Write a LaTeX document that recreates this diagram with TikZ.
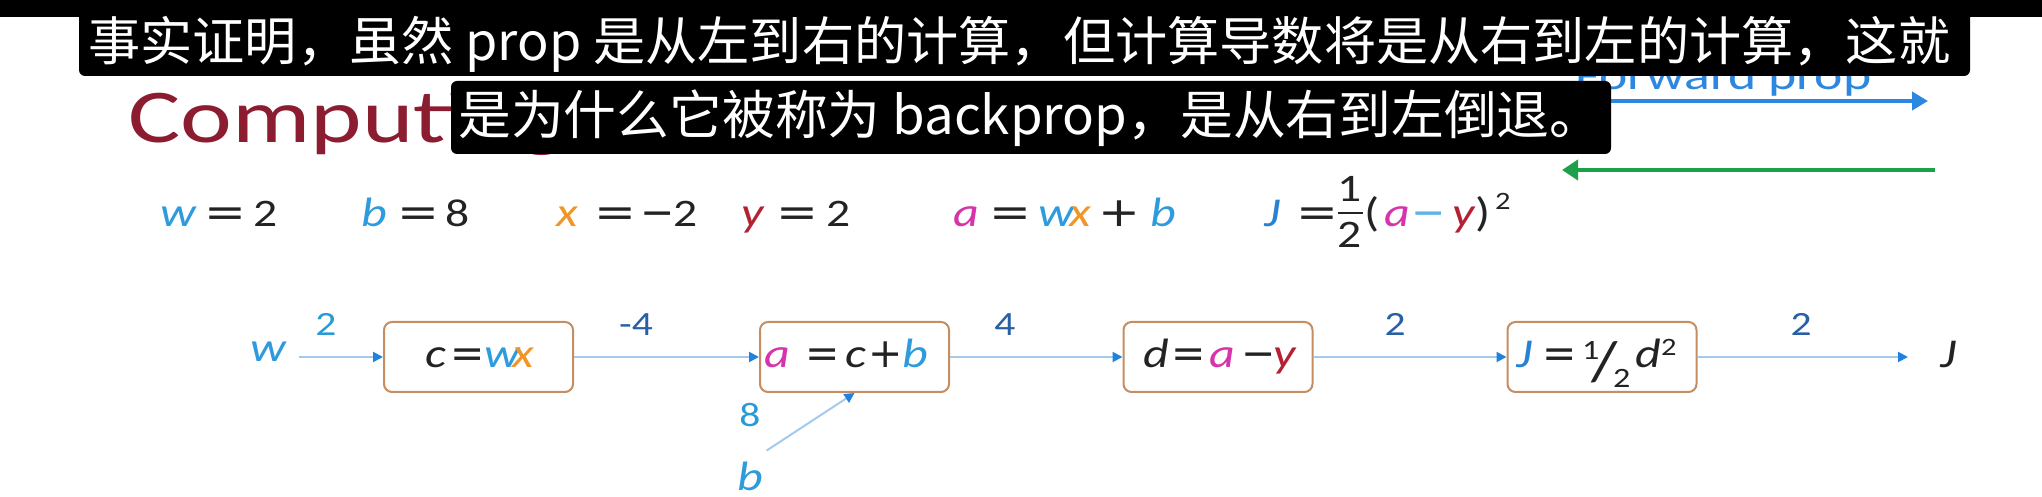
\documentclass[tikz,border=0pt]{standalone}
\usepackage{fontspec}
\usepackage{graphicx}
\setmainfont{Carlito}
\newfontfamily\cjkfont{Noto Sans CJK SC}
\newfontfamily\symfont{DejaVu Sans}
\usetikzlibrary{arrows.meta}
\definecolor{maroon}{RGB}{140,28,48}
\definecolor{wblue}{RGB}{45,155,222}
\definecolor{xorange}{RGB}{240,150,40}
\definecolor{yred}{RGB}{180,32,52}
\definecolor{amag}{RGB}{214,52,170}
\definecolor{jblue}{RGB}{40,130,212}
\definecolor{mblue}{RGB}{95,180,230}
\definecolor{ink}{RGB}{35,35,35}
\definecolor{boxbrown}{RGB}{196,142,98}
\definecolor{linkblue}{RGB}{165,203,236}
\definecolor{tipblue}{RGB}{30,130,222}
\definecolor{labdark}{RGB}{40,95,165}
\definecolor{lablight}{RGB}{40,155,215}
\definecolor{fpblue}{RGB}{45,135,222}
\definecolor{bpgreen}{RGB}{30,160,75}
\newcommand\sx[1]{\scalebox{1.22}[1]{#1}}
\newcommand\eqfont{\fontsize{20.5pt}{24pt}\selectfont}
\newcommand\dgfont{\fontsize{19.5pt}{22pt}\selectfont}
\newcommand\supfont{\fontsize{12.5pt}{14pt}\selectfont}
\newcommand\halffont{\fontsize{14pt}{16pt}\selectfont}
\newcommand\labfont{\fontsize{17pt}{20pt}\selectfont}
\newcommand\V[1]{\textit{#1}}
\newcommand\tk[5]{\node[tok,#4] (#1) at (#2,#3) {\sx{#5}};}
\newcommand\tkn[5]{\node[tok,#4] (#1) at (#2,#3) {#5};}
\begin{document}
\begin{tikzpicture}[x=0.5pt,y=-0.5pt,
  tok/.style={inner sep=0pt,outer sep=0pt,anchor=base west,font=\eqfont,text=ink},
  dig/.style={font=\dgfont},
  lab/.style={inner sep=0pt,anchor=base,font=\labfont},
  opbox/.style={draw=boxbrown,line width=1pt,rounded corners=4pt,minimum width=94.5pt,minimum height=35pt,inner sep=0pt},
  link/.style={draw=linkblue,line width=1pt,-{Triangle[length=5pt,width=5pt,color=tipblue]}},
  bigarrow/.style={line width=2pt,-{Triangle[length=8pt,width=9pt]}},
  subtext/.style={anchor=west,inner sep=0pt,text=white}]
\fill[white] (0,0) rectangle (2042,497);
\useasboundingbox (0,0) rectangle (2042,497);

% title and direction arrows
\node[inner sep=0pt,anchor=base west,font=\fontsize{38pt}{44pt}\selectfont,text=maroon] (title) at (128,143) {\scalebox{1.29}[1]{Computing}};
\node[inner sep=0pt,anchor=base west,font=\fontsize{21pt}{24pt}\selectfont,text=fpblue] (fp) at (1575,90) {\scalebox{1.28}[1]{Forward prop}};
\coordinate (fpa) at (1590,101);
\coordinate (fpb) at (1928,101);
\draw[bigarrow,fpblue] (fpa) -- (fpb);
\coordinate (bpa) at (1935,170);
\coordinate (bpb) at (1562,170);
\draw[bigarrow,bpgreen,-{Triangle[length=8pt,width=10pt]}] (bpa) -- (bpb);

% equations row
\tk{e1w}{160}{227}{text=wblue}{\V{w}}
\tk{e1eq}{204}{227}{}{\symfont =}
\tk{e1n}{253}{227}{dig}{2}
\tk{e2b}{361}{227}{text=wblue}{\V{b}}
\tk{e2eq}{397}{227}{}{\symfont =}
\tk{e2n}{445}{227}{dig}{8}
\tk{e3x}{556}{227}{text=xorange}{\V{x}}
\tk{e3eq}{594}{227}{}{\symfont =}
\tkn{e3m}{640}{227}{}{\symfont −}
\tk{e3n}{673}{227}{dig}{2}
\tk{e4y}{741}{227}{text=yred}{\V{y}}
\tk{e4eq}{776}{227}{}{\symfont =}
\tk{e4n}{826}{227}{dig}{2}
\tk{e5a}{953}{227}{text=amag}{\V{a}}
\tk{e5eq}{989}{227}{}{\symfont =}
\tk{e5w}{1038}{227}{text=wblue}{\V{w}}
\tk{e5x}{1069}{227}{text=xorange}{\V{x}}
\tk{e5p}{1098}{227}{}{\symfont +}
\tk{e5b}{1150}{227}{text=wblue}{\V{b}}
\tk{e6J}{1264}{227}{text=jblue}{\V{J}}
\tk{e6eq}{1296}{227}{}{\symfont =}
\node[tok,dig,anchor=base] (e6num) at (1350,202) {\sx{1}};
\node[tok,dig,anchor=base] (e6den) at (1350,248) {\sx{2}};
\draw[ink,line width=1pt] (1338,213) -- (1363,213);
\tk{e6lp}{1364}{227}{}{(}
\tk{e6a}{1384}{227}{text=amag}{\V{a}}
\tkn{e6m}{1411}{227}{text=mblue}{\symfont −}
\tk{e6y}{1452}{227}{text=yred}{\V{y}}
\tk{e6rp}{1475}{227}{}{)}
\tk{e6sq}{1495}{210}{font=\supfont}{2}

% operation boxes
\node[opbox] (box1) at (478.5,357) {};
\node[opbox] (box2) at (854.5,357) {};
\node[opbox] (box3) at (1218,357) {};
\node[opbox] (box4) at (1602,357) {};

\tk{b1c}{425}{368}{}{\V{c}}
\tkn{b1eq}{450}{368}{}{\symfont =}
\tk{b1w}{484}{368}{text=wblue}{\V{w}}
\tk{b1x}{512}{368}{text=xorange}{\V{x}}

\tk{b2a}{764}{368}{text=amag}{\V{a}}
\tkn{b2eq}{805}{368}{}{\symfont =}
\tk{b2c}{845}{368}{}{\V{c}}
\tkn{b2p}{868}{368}{}{\symfont +}
\tk{b2b}{902}{368}{text=wblue}{\V{b}}

\tk{b3d}{1143}{368}{}{\V{d}}
\tkn{b3eq}{1171}{368}{}{\symfont =}
\tk{b3a}{1209}{368}{text=amag}{\V{a}}
\tkn{b3m}{1241}{368}{}{\symfont −}
\tk{b3y}{1273}{368}{text=yred}{\V{y}}

\tk{b4J}{1516}{368}{text=jblue}{\V{J}}
\tkn{b4eq}{1542}{368}{}{\symfont =}
\tk{b4one}{1582}{360}{font=\halffont}{1}
\tk{b4sl}{1591}{381}{font=\fontsize{28pt}{30pt}\selectfont}{/}
\tk{b4two}{1613}{388}{font=\halffont}{2}
\tk{b4d}{1635}{368}{}{\V{d}}
\tk{b4sq}{1661}{356}{font=\supfont}{2}

% inputs and output
\tk{win}{250}{362}{text=wblue}{\V{w}}
\tk{bin}{737}{490}{text=wblue}{\V{b}}
\tk{Jout}{1940}{368}{}{\V{J}}

% connectors
\draw[link,shorten <=6pt] (win.east |- box1.west) -- (box1.west);
\draw[link] (box1.east) -- (box2.west);
\draw[link] (box2.east) -- (box3.west);
\draw[link] (box3.east) -- (box4.west);
\draw[link,shorten >=16pt] (box4.east) -- (Jout.west |- box4.east);
\draw[link,shorten <=10pt] (bin.north) -- (box2.south);

% derivative labels
\node[lab,text=lablight] (l1) at (326,336) {\sx{2}};
\node[lab,text=labdark] (l2) at (636,336) {\sx{-4}};
\node[lab,text=labdark] (l3) at (1005,336) {\sx{4}};
\node[lab,text=labdark] (l4) at (1395,336) {\sx{2}};
\node[lab,text=labdark] (l5) at (1801,336) {\sx{2}};
\node[lab,text=lablight] (l8) at (750,427) {\sx{8}};

% subtitles
\fill[black] (0,0) rectangle (2042,17);
\fill[black,rounded corners=3pt] (79,0) rectangle (1970,76);
\fill[black,rounded corners=3pt] (451,81) rectangle (1611,154);
\node[subtext] (sub1) at (88,44) {\resizebox{931pt}{!}{\cjkfont\fontsize{26pt}{30pt}\selectfont 事实证明，虽然 prop 是从左到右的计算，但计算导数将是从右到左的计算，这就}};
\node[subtext] (sub2) at (458,118) {\resizebox{572pt}{!}{\cjkfont\fontsize{26pt}{30pt}\selectfont 是为什么它被称为 backprop，是从右到左倒退。}};
\end{tikzpicture}
\end{document}
